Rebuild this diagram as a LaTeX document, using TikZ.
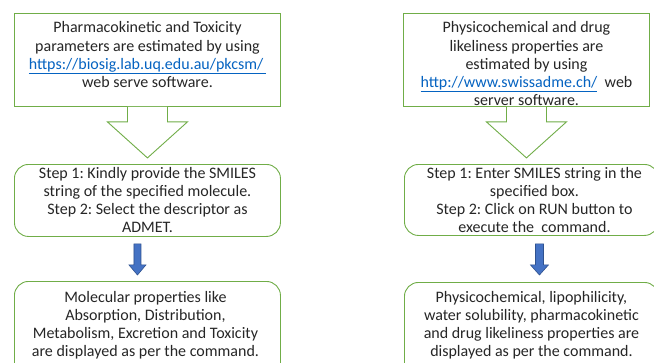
\documentclass[tikz,border=0pt]{standalone}
\usepackage{fontspec}
\setmainfont{Carlito}
\usetikzlibrary{calc}
\definecolor{boxgreen}{HTML}{70AD47}
\definecolor{arrblue}{HTML}{4472C4}
\definecolor{arrblueedge}{HTML}{2F528F}
\definecolor{linkblue}{HTML}{0563C1}
\newcommand{\boxtextfont}{\fontsize{16}{18.2}\selectfont\setlength{\lineskiplimit}{-20pt}}
\tikzset{
  sqbox/.style={draw=boxgreen, line width=0.9pt, fill=white, inner sep=0pt, anchor=north west},
  rbox/.style={draw=boxgreen, line width=0.9pt, fill=white, rounded corners=14pt, inner sep=0pt, anchor=north west},
  txt/.style={align=center, inner sep=0pt, anchor=north, text=black!85, font=\boxtextfont},
  hollow/.style={draw=boxgreen, line width=0.9pt, fill=white},
  solidarrow/.style={draw=arrblueedge, line width=0.6pt, fill=arrblue},
}
\newcommand{\lnk}[1]{\textcolor{linkblue}{\underline{#1}}}
\begin{document}
\frenchspacing
\begin{tikzpicture}[x=1pt,y=-1pt]
\useasboundingbox (0,0) rectangle (654,362);
\fill[white] (0,0) rectangle (654,362);
\clip (0,0) rectangle (654,362);

% ---- left column ----
\node[sqbox, minimum width=266pt, minimum height=93pt] (L1) at (14,13) {};
\node[txt] (L1t) at ($(L1.north)+(0,8.5)$) {Pharmacokinetic and Toxicity\\parameters are estimated by using\\\lnk{https://biosig.lab.uq.edu.au/pkcsm/\,}\\web serve software.};
\draw[hollow] ($(L1.south)+(-20,0)$) -- ++(0,15) -- ++(-20,0) -- ($(L1.south)+(0,51)$) coordinate (L1tip) -- ($(L1.south)+(40,15)$) -- ++(-20,0) -- ++(0,-15);

\node[rbox, minimum width=266pt, minimum height=72pt] (L2) at (14,164) {};
\node[txt] (L2t) at ($(L2.north)+(0,3)$) {Step 1: Kindly provide the SMILES\\string of the specified molecule.\\Step 2: Select the descriptor as\\ADMET.};

\node[rbox, minimum width=266pt, minimum height=100pt] (L3) at (14,281) {};
\node[txt] (L3t) at ($(L3.north)+(-2,10)$) {Molecular properties like\\Absorption, Distribution,\\Metabolism, Excretion and Toxicity\\are displayed as per the command.};

\draw[solidarrow] ($(L2.south)+(-13.5,7)$) -- ++(7,0) -- ++(0,21) -- ++(5,0) -- ($(L3.north)+(-13.5+3.5,-6)$) -- ($(L2.south)+(-13.5-5,28)$) -- ++(5,0) -- cycle;

% ---- right column ----
\node[sqbox, minimum width=246pt, minimum height=93pt] (R1) at (403,13) {};
\node[txt] (R1t) at ($(R1.north)+(0,8.5)$) {Physicochemical and drug\\likeliness properties are\\estimated by using\\\lnk{http://www.swissadme.ch/}\ \ web\\server software.};
\draw[hollow] ($(R1.south)+(-20,0)$) -- ++(0,15) -- ++(-20,0) -- ($(R1.south)+(0,51)$) coordinate (R1tip) -- ($(R1.south)+(40,15)$) -- ++(-20,0) -- ++(0,-15);

\node[rbox, minimum width=254pt, minimum height=71pt] (R2) at (404,164) {};
\node[txt] (R2t) at ($(R2.north)+(3,3)$) {Step 1: Enter SMILES string in the\\specified box.\\Step 2: Click on RUN button to\\execute the\ \ command.};

\node[rbox, minimum width=254pt, minimum height=100pt] (R3) at (404,282) {};
\node[txt] (R3t) at ($(R3.north)+(0,9)$) {Physicochemical, lipophilicity,\\water solubility, pharmacokinetic\\and drug likeliness properties are\\displayed as per the command.};

\draw[solidarrow] ($(R2.south)+(4,8)$) -- ++(8,0) -- ++(0,21) -- ++(5,0) -- ($(R3.north)+(8,-7)$) -- ($(R2.south)+(-1,29)$) -- ++(5,0) -- cycle;
\end{tikzpicture}
\end{document}
